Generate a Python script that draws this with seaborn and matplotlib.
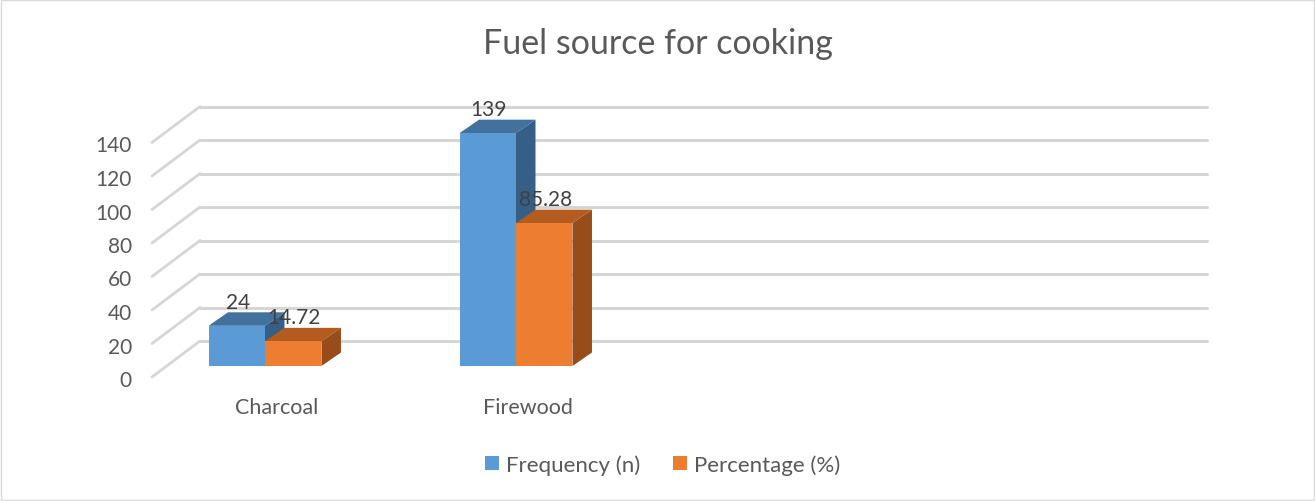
import matplotlib

matplotlib.use("Agg")
import matplotlib.pyplot as plt
import matplotlib.transforms as mtransforms
import pandas as pd
import seaborn as sns
from matplotlib.patches import Patch, Polygon, Rectangle

# data
categories = ["Charcoal", "Firewood"]
frequency = [24, 139]
percentage = [14.72, 85.28]
series = ["Frequency (n)", "Percentage (%)"]
y_ticks = [0, 20, 40, 60, 80, 100, 120, 140]

front_colors = ["#5B9BD5", "#ED7D31"]
top_colors = ["#41719C", "#B45C1F"]
side_colors = ["#365F87", "#974C19"]

df = pd.DataFrame({
    "category": categories * 2,
    "series": [series[0]] * len(categories) + [series[1]] * len(categories),
    "value": frequency + percentage,
})

sns.set_theme(style="white")
plt.rcParams["font.family"] = ["Lato", "DejaVu Sans"]
TXT = "#595959"
FS = 15

fig = plt.figure(figsize=(13.15, 5.02), dpi=100)
ax = fig.add_axes([166.6 / 1315, 135 / 502, 1007 / 1315, 141 * 1.675 / 502])

sns.barplot(data=df, x="category", y="value", hue="series", order=categories,
            hue_order=series, palette=front_colors, width=0.45, gap=0,
            legend=False, ax=ax, zorder=3, linewidth=0, saturation=1)
ax.set_xlim(-0.392, 3.62)
ax.set_ylim(0, 141)
ax.set_axis_off()


def offset(dx_px, dy_px):
    return ax.transData + mtransforms.ScaledTranslation(
        dx_px / fig.dpi, dy_px / fig.dpi, fig.dpi_scale_trans)


# 3D floor/wall gridlines: front plane and back plane relative to bar fronts
FRONT = (-14.6, -11.0)
BACK = (33.4, 25.0)
x0, x1 = ax.get_xlim()
for v in y_ticks:
    ax.plot([x0, x1], [v, v], color="#d6d6d6", lw=2.2, solid_capstyle="round",
            transform=offset(*BACK), clip_on=False, zorder=1)
    # slanted segment: draw in display space via two offsets
    p_front = offset(*FRONT).transform((x0, v))
    p_back = offset(*BACK).transform((x0, v))
    ax.plot([p_front[0], p_back[0]], [p_front[1], p_back[1]], color="#d6d6d6",
            lw=2.0, solid_capstyle="round", transform=None, clip_on=False, zorder=1)
    ax.text(x0, v, str(v), transform=offset(FRONT[0] - 20, FRONT[1] - 1),
            ha="right", va="center_baseline", fontsize=FS, color=TXT)

# 3D top and side faces for each bar
p0 = ax.transData.transform((0, 0))
p1 = ax.transData.transform((1, 1))
DX = 19.5 / (p1[0] - p0[0])
DY = 13.5 / (p1[1] - p0[1])
n = len(categories)
for i, bar in enumerate(ax.patches):
    s = i // n
    bx, bw, bh = bar.get_x(), bar.get_width(), bar.get_height()
    top = Polygon([(bx, bh), (bx + bw, bh), (bx + bw + DX, bh + DY), (bx + DX, bh + DY)],
                  closed=True, facecolor=top_colors[s], edgecolor="none",
                  zorder=2.5, clip_on=False)
    side = Polygon([(bx + bw, 0), (bx + bw + DX, DY), (bx + bw + DX, bh + DY), (bx + bw, bh)],
                   closed=True, facecolor=side_colors[s], edgecolor="none",
                   zorder=2.5, clip_on=False)
    ax.add_patch(top)
    ax.add_patch(side)
    label = f"{bh:g}"
    ax.text(bx + bw / 2, bh, label, transform=offset(1, 18), ha="center",
            va="baseline", fontsize=FS, color="#404040", zorder=5)

for i, cat in enumerate(categories):
    ax.text(i, 0, cat, transform=offset(12, -41.5), ha="center", va="center",
            fontsize=15.5, color=TXT)

fig.text(0.5, 1 - 54 / 502, "Fuel source for cooking", ha="center", va="baseline",
         fontsize=24.5, color=TXT)

handles = [Patch(facecolor=c, edgecolor="none", label=l) for c, l in zip(front_colors, series)]
fig.legend(handles=handles, loc="center", bbox_to_anchor=(662.5 / 1315, 1 - 465.5 / 502),
           ncol=2, frameon=False, fontsize=16, handlelength=0.62, handleheight=0.62,
           handletextpad=0.3, columnspacing=1.5, labelcolor=TXT)

fig.add_artist(Rectangle((0.0008, 0.002), 0.9984, 0.996, transform=fig.transFigure,
                         fill=False, edgecolor="#d9d9d9", lw=1))

fig.savefig("out.png", dpi=100)
plt.close(fig)
